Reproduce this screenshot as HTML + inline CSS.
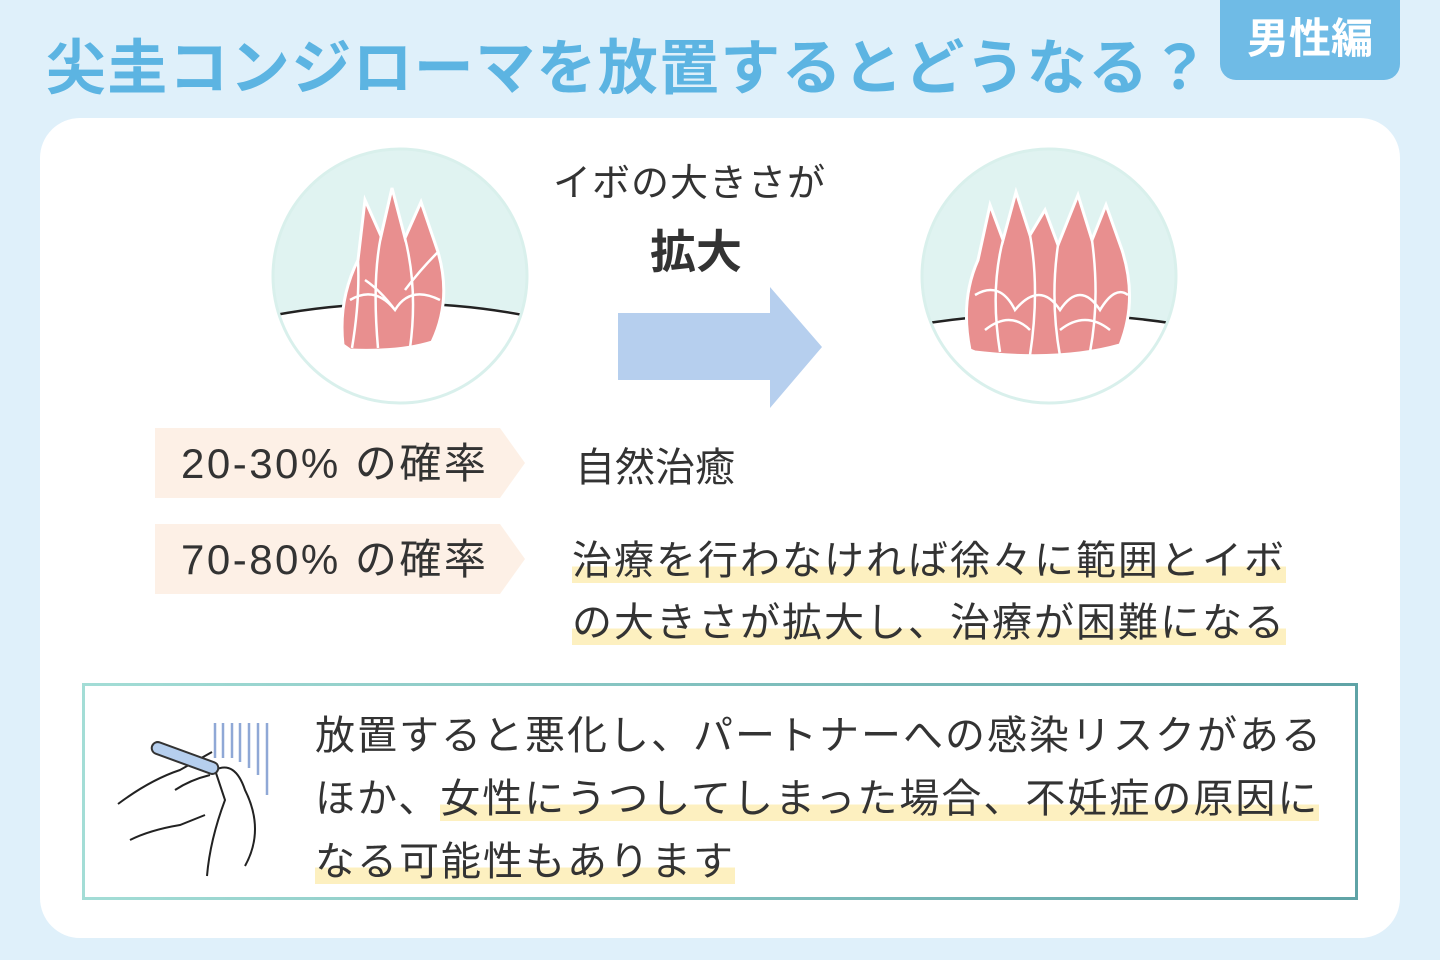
<!DOCTYPE html>
<html><head><meta charset="utf-8"><style>
body{margin:0;width:1440px;height:960px;background:#dff0fa;font-family:"Liberation Sans","Noto Sans CJK JP",sans-serif;position:relative;overflow:hidden;color:#333}
.abs{position:absolute}
.title{left:46px;top:20px;font-size:60px;font-weight:bold;color:#5cb4e2;letter-spacing:1.3px;white-space:nowrap}
.badge{left:1220px;top:0;width:180px;height:80px;background:#6fbbe6;border-radius:0 0 16px 16px;color:#fff;font-size:42px;font-weight:bold;text-align:center;line-height:78px}
.card{left:40px;top:118px;width:1360px;height:820px;background:#fff;border-radius:40px}
.tag{height:70px;width:370px;background:#fdf0e6;clip-path:polygon(0 0,345px 0,370px 35px,345px 70px,0 70px);font-size:42px;line-height:72px;padding-left:26px;box-sizing:border-box;white-space:nowrap;letter-spacing:2.5px}
.hl{background:linear-gradient(transparent 62%,#fdf0c0 62%)}
.t40{font-size:40px;white-space:nowrap}
</style></head><body>
<div class="abs title">尖圭コンジローマを放置するとどうなる？</div>
<div class="abs badge">男性編</div>
<div class="abs card"></div>
<svg class="abs" style="left:0;top:0" width="1440" height="960">
<defs>
<clipPath id="c1"><circle cx="400" cy="276" r="127"/></clipPath>
<clipPath id="c2"><circle cx="1049" cy="276" r="127"/></clipPath>
<linearGradient id="bg" x1="0" x2="1" y1="0" y2="0"><stop offset="0" stop-color="#a3ddd6"/><stop offset="1" stop-color="#5fa3a6"/></linearGradient>
</defs>
<rect x="83.5" y="684.5" width="1273" height="214" fill="none" stroke="url(#bg)" stroke-width="3"/>
<g clip-path="url(#c1)"><rect x="260" y="140" width="280" height="280" fill="#e0f3f1"/><path d="M260 316 Q400 290 540 316 L540 420 L260 420Z" fill="#fff"/><path d="M275 315 Q400 292 523 315" stroke="#222" stroke-width="2.5" fill="none"/></g>
<circle cx="400" cy="276" r="127" fill="none" stroke="#d9f0ec" stroke-width="3"/>
<path d="M343 345 Q338 300 358 260 L365 200 L381 236 L392 188 L405 238 L421 202 L438 252 Q452 300 432 342 Q400 352 350 350Z" fill="#e88f8f" stroke="#fff" stroke-width="3"/>
<path d="M381 236 Q372 280 378 348 M405 238 Q418 290 410 348 M358 260 Q360 300 352 348 M350 300 Q375 285 395 310 Q410 285 440 300 M438 252 Q420 270 405 290 M365 280 Q380 290 395 310" stroke="#fff" stroke-width="2.5" fill="none"/>
<g clip-path="url(#c2)"><rect x="910" y="140" width="280" height="280" fill="#e0f3f1"/><path d="M910 325 Q1049 305 1190 325 L1190 420 L910 420Z" fill="#fff"/><path d="M928 323 Q1049 305 1170 323" stroke="#222" stroke-width="2.5" fill="none"/></g>
<circle cx="1049" cy="276" r="127" fill="none" stroke="#d9f0ec" stroke-width="3"/>
<path d="M970 350 Q960 300 978 260 L990 205 L1003 240 L1016 192 L1030 235 L1045 210 L1058 245 L1078 195 L1092 240 L1106 205 L1122 250 Q1138 300 1120 345 Q1060 362 975 352Z" fill="#e88f8f" stroke="#fff" stroke-width="3"/>
<path d="M1003 240 Q990 290 1000 352 M1030 235 Q1040 290 1030 355 M1058 245 Q1050 300 1060 356 M1092 240 Q1100 300 1090 352 M975 295 Q1000 280 1015 310 Q1040 280 1060 310 Q1080 280 1100 310 Q1115 285 1128 295 M985 330 Q1010 310 1030 330 M1060 330 Q1085 310 1110 330" stroke="#fff" stroke-width="2.5" fill="none"/>
<polygon points="618,313 770,313 770,287 822,347 770,408 770,380 618,380" fill="#b6cfee"/>
<g stroke="#222" stroke-width="2" fill="none">
<path d="M118 804 Q150 780 180 770 L212 752 M130 840 Q150 830 180 825 L205 815 M175 790 Q190 780 210 775 M207 876 Q210 840 225 800 L215 770 Q235 760 245 790 Q265 830 245 866"/>
</g>
<rect x="150" y="752" width="70" height="12" rx="6" transform="rotate(20 185 758)" fill="#b6cfee" stroke="#333" stroke-width="2"/>
<g stroke="#8fa8d6" stroke-width="2.5"><path d="M215 723V758M223 723V758M232 723V758M240 723V762M249 723V768M258 723V775M267 723V795"/></g>
</svg>
<div class="abs t40" style="left:553px;top:152px;font-size:38px;letter-spacing:1px">イボの大きさが</div>
<div class="abs t40" style="left:650px;top:216px;font-size:46px;font-weight:bold">拡大</div>
<div class="abs tag" style="left:155px;top:428px">20-30% の確率</div>
<div class="abs tag" style="left:155px;top:524px">70-80% の確率</div>
<div class="abs t40" style="left:575px;top:435px">自然治癒</div>
<div class="abs t40" style="left:572px;top:530px;line-height:62px;letter-spacing:2px"><span class="hl">治療を行わなければ徐々に範囲とイボ</span><br><span class="hl">の大きさが拡大し、治療が困難になる</span></div>
<div class="abs t40" style="left:315px;top:705px;line-height:63px;letter-spacing:2px">放置すると悪化し、パートナーへの感染リスクがある<br>ほか、<span class="hl">女性にうつしてしまった場合、不妊症の原因に</span><br><span class="hl">なる可能性もあります</span></div>
</body></html>
